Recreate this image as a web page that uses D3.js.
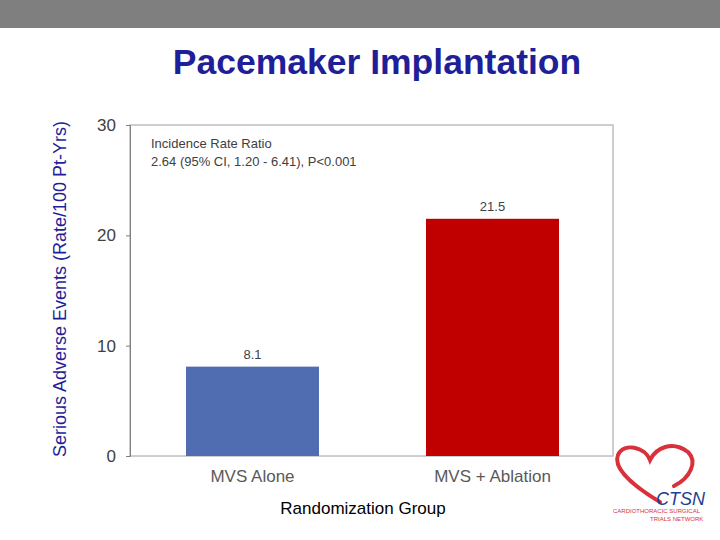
<!DOCTYPE html><html><head><meta charset="utf-8"><script src="https://cdn.jsdelivr.net/npm/d3@7"></script>
<style>body{margin:0;background:#fff}</style></head><body><svg id="c" width="720" height="540"></svg>
<script>
const categories=["MVS Alone","MVS + Ablation"];
const values=[8.1,21.5];
const colors=["#4f6db0","#c00000"];
const yTicks=[0,10,20,30];
const svg=d3.select("#c");
const F="Liberation Sans, Arial, sans-serif";
svg.append("rect").attr("x",0).attr("y",0).attr("width",720).attr("height",28).attr("fill","#7f7f7f");
svg.append("text").attr("x",377).attr("y",74).attr("text-anchor","middle").attr("font-family",F).attr("font-weight","bold").attr("font-size",35.5).attr("fill","#1f1f99").text("Pacemaker Implantation");
const L=130,R=613,T=125,B=456;
const xb=d3.scaleLinear().domain([0,1]).range([186,426]);
const y=d3.scaleLinear().domain([0,30]).range([B,T]);
svg.append("rect").attr("x",L).attr("y",T).attr("width",R-L).attr("height",B-T).attr("fill","none").attr("stroke","#bfbfbf").attr("stroke-width",1.5);
const ya=svg.append("g").attr("transform",`translate(${L},0)`).call(d3.axisLeft(y).tickValues(yTicks).tickSize(4).tickPadding(10));
ya.select(".domain").attr("stroke","#7f7f7f");
ya.selectAll("line").attr("stroke","#7f7f7f");
ya.selectAll("text").attr("font-family",F).attr("font-size",17).attr("fill","#404040");
const bw=133;
categories.forEach((c,i)=>{
  const bx=xb(i);
  svg.append("rect").attr("x",bx).attr("y",y(values[i])).attr("width",bw).attr("height",y(0)-y(values[i])).attr("fill",colors[i]);
  svg.append("text").attr("x",bx+bw/2).attr("y",y(values[i])-8).attr("text-anchor","middle").attr("font-family",F).attr("font-size",13).attr("fill","#404040").text(values[i]);
  svg.append("text").attr("x",bx+bw/2).attr("y",482).attr("text-anchor","middle").attr("font-family",F).attr("font-size",17).attr("fill","#595959").text(c);
});
svg.append("text").attr("x",363).attr("y",514).attr("text-anchor","middle").attr("font-family",F).attr("font-size",17).attr("fill","#000").text("Randomization Group");
svg.append("text").attr("transform","translate(66,289) rotate(-90)").attr("text-anchor","middle").attr("font-family",F).attr("font-size",18).attr("fill","#1f1f99").text("Serious Adverse Events (Rate/100 Pt-Yrs)");
svg.append("text").attr("x",151).attr("y",148).attr("font-family",F).attr("font-size",13).attr("fill","#404040").text("Incidence Rate Ratio");
svg.append("text").attr("x",151).attr("y",166).attr("font-family",F).attr("font-size",13).attr("fill","#404040").text("2.64 (95% CI, 1.20 - 6.41), P<0.001");
svg.append("path").attr("d","M660,502 C640,490 612,470 618,455 C624,442 645,447 650,460 C656,448 672,440 688,452 C698,462 690,478 674,486").attr("fill","none").attr("stroke","#d9303a").attr("stroke-width",4).attr("stroke-linecap","round");
svg.append("text").attr("x",656).attr("y",505).attr("font-family",F).attr("font-style","italic").attr("font-size",18).attr("fill","#1f3f8f").text("CTSN");
svg.append("text").attr("x",613).attr("y",513).attr("font-family",F).attr("font-size",6).attr("fill","#d9303a").text("CARDIOTHORACIC SURGICAL");
svg.append("text").attr("x",650).attr("y",521).attr("font-family",F).attr("font-size",6).attr("fill","#d9303a").text("TRIALS NETWORK");
</script></body></html>
